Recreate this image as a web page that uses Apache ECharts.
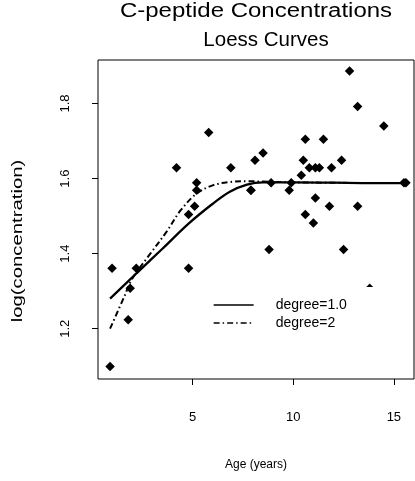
<!DOCTYPE html>
<html>
<head>
<meta charset="utf-8">
<script src="https://cdn.jsdelivr.net/npm/echarts@6/dist/echarts.min.js"></script>
<style>
  html, body { margin: 0; padding: 0; background: #fff; }
  #chart { width: 415px; height: 481px; }
</style>
</head>
<body>
<div id="chart"></div>
<script>
// Age (years) and log C-peptide concentration of each child
const ages = [5.2, 8.8, 10.5, 10.6, 10.4, 1.8, 12.7, 15.6, 5.8, 1.9, 2.2, 4.8, 7.9, 5.2, 0.9,
  11.8, 7.9, 11.5, 10.6, 8.5, 11.1, 12.8, 11.3, 1.0, 14.5, 11.9, 8.1, 13.8, 15.5, 9.8,
  11.0, 12.4, 11.1, 5.1, 4.8, 4.2, 6.9, 13.2, 9.9, 12.5, 13.2, 8.9, 10.8];
const logConc = [1.569, 1.411, 1.649, 1.705, 1.609, 1.224, 1.224, 1.589, 1.723, 1.308, 1.361, 1.504, 1.569, 1.589, 1.099,
  1.526, 1.569, 1.705, 1.504, 1.668, 1.548, 1.887, 1.629, 1.361, 1.740, 1.629, 1.649, 1.308, 1.589, 1.569,
  1.482, 1.649, 1.629, 1.526, 1.361, 1.629, 1.629, 1.792, 1.589, 1.411, 1.526, 1.589, 1.629];

// Loess fit, degree 1
const fit1Age = [0.9, 2.2, 3.5, 4.8, 6.0, 6.85, 7.7, 8.5, 10.0, 12.0, 14.0, 15.6];
const fit1Val = [1.280, 1.347, 1.413, 1.480, 1.533, 1.565, 1.584, 1.590, 1.590, 1.589, 1.588, 1.588];

// Loess fit, degree 2
const fit2Age = [0.9, 1.6, 2.0, 2.9, 3.7, 4.4, 5.2, 6.0, 6.85, 7.7, 8.5, 10.0, 12.0, 14.0, 15.6];
const fit2Val = [1.200, 1.285, 1.333, 1.400, 1.458, 1.515, 1.560, 1.582, 1.591, 1.593, 1.592, 1.590, 1.589, 1.588, 1.588];

// Tick labels
const xTicks = [5, 10, 15];
const yTicks = [1.2, 1.4, 1.6, 1.8];

const FONT = 'Liberation Sans';
const zip = (a, b) => a.map((v, i) => [v, b[i]]);

const chart = echarts.init(document.getElementById('chart'), null, { renderer: 'canvas' });

chart.setOption({
  backgroundColor: '#fff',
  animation: false,
  textStyle: { fontFamily: FONT, color: '#000' },
  graphic: [
    { type: 'text', x: 256, y: 11, scaleX: 1.2,
      style: { text: 'C-peptide Concentrations', font: '20px ' + FONT, fill: '#000',
               textAlign: 'center', textVerticalAlign: 'middle' } },
    { type: 'text', x: 266, y: 40,
      style: { text: 'Loess Curves', font: '20.5px ' + FONT, fill: '#000',
               textAlign: 'center', textVerticalAlign: 'middle' } },
    // y-axis title, stretched along its reading direction
    { type: 'text', x: 18, y: 241, rotation: Math.PI / 2, scaleX: 1.45,
      style: { text: 'log(concentration)', font: '14px ' + FONT, fill: '#000',
               textAlign: 'center', textVerticalAlign: 'middle' } }
  ],
  grid: {
    left: 98, top: 60, width: 316, height: 319,
    show: true, borderColor: '#000', borderWidth: 1, backgroundColor: 'transparent'
  },
  legend: {
    orient: 'vertical',
    left: 203, top: 287,
    padding: [11, 30, 14, 10],
    backgroundColor: '#fff',
    itemWidth: 40, itemHeight: 14, itemGap: 4,
    data: ['degree=1.0', 'degree=2'],
    itemStyle: { opacity: 0 },
    lineStyle: { width: 1.3 },
    textStyle: { fontFamily: FONT, fontSize: 14, color: '#000', padding: [0, 0, 0, 17] },
    selectedMode: false
  },
  xAxis: {
    type: 'value', min: 0.3, max: 16.0,
    name: 'Age (years)', nameLocation: 'middle', nameGap: 80,
    nameTextStyle: { fontFamily: FONT, fontSize: 12, color: '#000' },
    axisLine: { show: false },
    splitLine: { show: false },
    axisTick: { show: true, inside: false, length: 6, customValues: xTicks,
                lineStyle: { color: '#000', width: 1 } },
    axisLabel: { customValues: xTicks, margin: 32, fontFamily: FONT, fontSize: 13, color: '#000' }
  },
  yAxis: {
    type: 'value', min: 1.066, max: 1.916,
    axisLine: { show: false },
    splitLine: { show: false },
    axisTick: { show: true, inside: false, length: 6, customValues: yTicks,
                lineStyle: { color: '#000', width: 1 } },
    axisLabel: { customValues: yTicks, rotate: 90, margin: 26, fontFamily: FONT, fontSize: 13,
                 color: '#000', formatter: v => v.toFixed(1) }
  },
  series: [
    {
      type: 'scatter', name: 'data',
      data: zip(ages, logConc),
      symbol: 'diamond', symbolSize: 9.5,
      itemStyle: { color: '#000', opacity: 1 }, z: 3
    },
    {
      type: 'line', name: 'degree=1.0',
      data: zip(fit1Age, fit1Val),
      smooth: 0.35, symbol: 'none',
      lineStyle: { color: '#000', width: 2.3, type: 'solid' },
      itemStyle: { color: '#000' }, z: 2
    },
    {
      type: 'line', name: 'degree=2',
      data: zip(fit2Age, fit2Val),
      smooth: 0.35, symbol: 'none',
      lineStyle: { color: '#000', width: 2, type: [6, 3, 1.5, 3] },
      itemStyle: { color: '#000' }, z: 2
    }
  ]
});
</script>
</body>
</html>
